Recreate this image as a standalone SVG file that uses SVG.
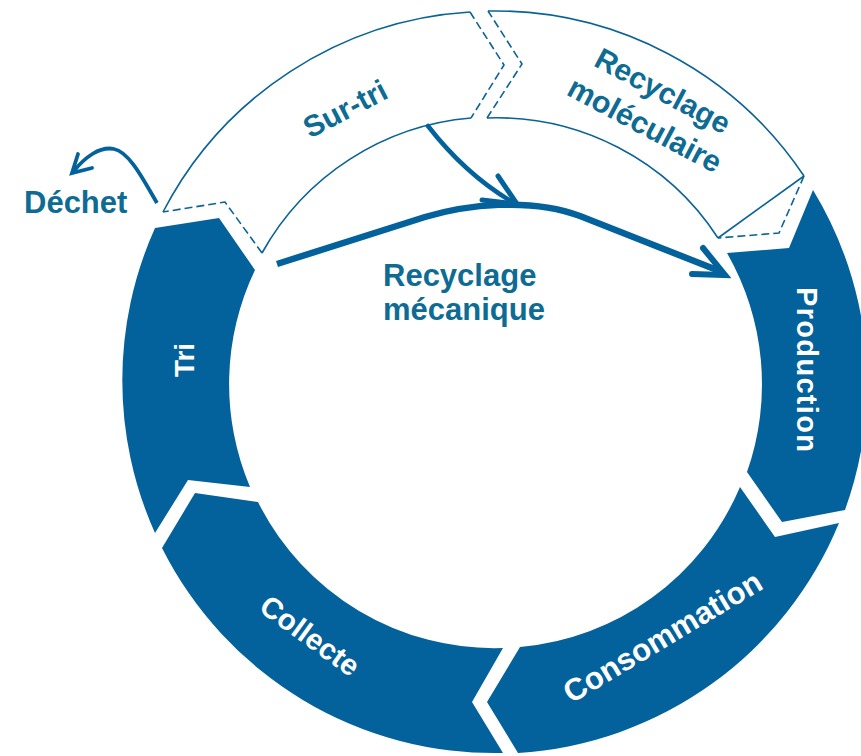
<svg xmlns="http://www.w3.org/2000/svg" width="861" height="756" viewBox="0 0 861 756">
<style>
.seg{fill:#03629c}
.out{fill:none;stroke:#0a6397;stroke-width:1.6}
.dash{stroke-dasharray:8 4}
.lbl{font-family:"Liberation Sans",Arial,sans-serif;font-weight:bold}
.teal{fill:#0e6c94}
.wht{fill:#ffffff}
.arr{fill:none;stroke:#03629c;stroke-linejoin:round}
.head{fill:none;stroke:#03629c;stroke-linecap:round;stroke-linejoin:miter}
</style>
<rect width="861" height="756" fill="#ffffff"/>
<g id="node-production">
<path class="seg" d="M813,190 A372,372 0 0 1 845,510 L782,522 L747,472 A264,264 0 0 0 727,253 L789,248 Z"/>
<text class="lbl wht" font-size="29" text-anchor="middle" textLength="165" transform="translate(797,369.5) rotate(90)">Production</text>
</g>
<g id="node-consommation">
<path class="seg" d="M839,523 A372,372 0 0 1 518,753 L487,702 L520,647 A264,264 0 0 0 740,487 L775,537 Z"/>
<text class="lbl wht" font-size="31" text-anchor="middle" transform="translate(668,646) rotate(-31)">Consommation</text>
</g>
<g id="node-collecte">
<path class="seg" d="M503,753 A372,372 0 0 1 162,548 L195,493 L258,502 A264,264 0 0 0 503,648 L472,702 Z"/>
<text class="lbl wht" font-size="29.5" text-anchor="middle" transform="translate(304,644) rotate(36)">Collecte</text>
</g>
<g id="node-tri">
<path class="seg" d="M155,533 A372,372 0 0 1 155,228 L219,218 L255,270 A264,264 0 0 0 250,487 L188,480 Z"/>
<text class="lbl wht" font-size="28" text-anchor="middle" transform="translate(194,360) rotate(-90)">Tri</text>
</g>
<g id="node-sur-tri">
<path class="out" d="M163,212 A372,372 0 0 1 470,12"/>
<path class="out" d="M471,118 A264,264 0 0 0 262,253"/>
<path class="out dash" d="M470,12 L504,65 L471,118"/>
<path class="out dash" d="M262,253 L225,202 L163,212"/>
<text class="lbl teal" font-size="30" text-anchor="middle" transform="translate(350,118) rotate(-27.5)">Sur-tri</text>
</g>
<g id="node-recyclage-moleculaire">
<path class="out" d="M488,11 A372,372 0 0 1 804,176"/>
<path class="out" d="M804,176 L718,238"/>
<path class="out" d="M718,238 A264,264 0 0 0 487,118"/>
<path class="out dash" d="M804,176 L779,233 L718,238"/>
<path class="out dash" d="M487,118 L522,64 L488,11"/>
<text class="lbl teal" font-size="30" text-anchor="middle" transform="translate(658,100) rotate(28)">Recyclage</text>
<text class="lbl teal" font-size="30.5" text-anchor="middle" transform="translate(640,134) rotate(28)">moléculaire</text>
</g>
<g id="node-dechet">
<text class="lbl teal" x="24" y="213" font-size="31">Déchet</text>
</g>
<g id="node-recyclage-mecanique">
<text class="lbl teal" x="383" y="286" font-size="31">Recyclage</text>
<text class="lbl teal" x="383" y="320" font-size="31">mécanique</text>
</g>
<g id="connectors">
<path class="arr" stroke-width="6.5" d="M277,264 L425,217 C465,205 530,197 580,216 L722,272"/>
<polyline class="head" stroke-width="6" points="703,248 725,275 692,274"/>
<path class="arr" stroke-width="4.5" stroke-linecap="round" d="M428,126 Q466,175 514,203"/>
<polyline class="head" stroke-width="5" points="498,176 517,204 482,200"/>
<path class="arr" stroke-width="3.8" d="M157,203 C145,183 130,152 114,149 C100,146 85,157 73,172"/>
<polyline class="head" stroke-width="3.8" points="78,154 72,173 92,168"/>
</g>
</svg>
